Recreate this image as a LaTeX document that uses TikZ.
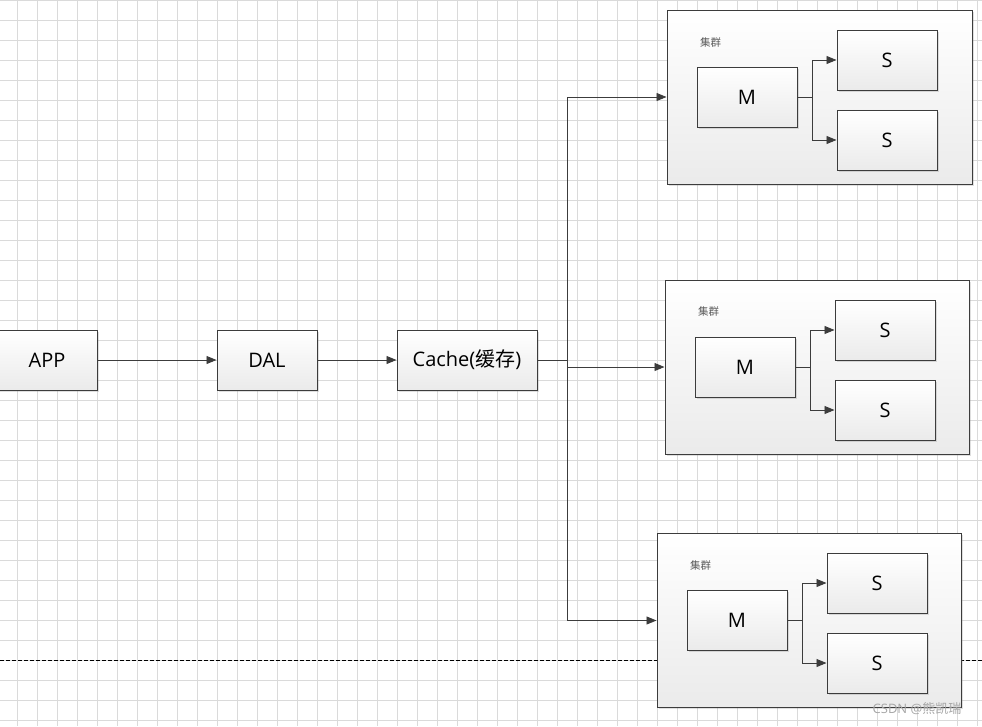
\documentclass[tikz,border=0pt]{standalone}
\usepackage{fontspec}
\setmainfont{Open Sans}
\newfontfamily\cjk{Noto Sans CJK SC}
\usetikzlibrary{arrows.meta,shadows,calc}
\definecolor{gridc}{HTML}{DADADA}
\definecolor{linec}{HTML}{3C3C3C}
\begin{document}
\begin{tikzpicture}[x=1pt,y=-1pt,
  boxbase/.style={draw=linec,line width=1pt,rectangle,top color=white,bottom color=black!8,
    drop shadow={shadow xshift=1.5pt,shadow yshift=-1.5pt,opacity=.25}},
  bigbox/.style={boxbase,minimum width=100pt,minimum height=60pt,inner sep=0pt,
    font=\fontsize{20}{24}\selectfont},
  clusterbox/.style={boxbase,minimum width=304pt,minimum height=174pt,inner sep=0pt},
  clabel/.style={anchor=west,text=black!65,font=\cjk\fontsize{10.5}{12}\selectfont,inner sep=0pt},
  conn/.style={draw=linec,line width=0.9pt},
  arr/.style={conn,-{Triangle[length=10pt,width=8pt]},arrows={[color=linec]}},
]
\useasboundingbox (0,0) rectangle (982,726);
% grid
\foreach \x in {17,37,...,977} \draw[gridc,line width=0.9pt] (\x,0) -- (\x,726);
\foreach \y in {0,20,...,720} \draw[gridc,line width=0.9pt] (0,\y) -- (982,\y);
% dashed line
\draw[black,line width=0.8pt,dash pattern=on 4pt off 2pt] (0,660) -- (982,660);

% main chain
\node[bigbox] (app) at (47,360) {APP};
\node[bigbox] (dal) at (267,360) {DAL};
\node[bigbox,minimum width=140pt] (cache) at (467,360) {Cache({\cjk 缓存})};
\draw[arr] (app) -- (dal);
\draw[arr] (dal) -- (cache);

% clusters
\node[clusterbox,minimum width=305pt] (c1) at (819.5,97) {};
\node[clusterbox] (c2) at (817,367) {};
\node[clusterbox] (c3) at (809,620.5) {};

\node[clabel] (l1) at (700,42) {集群};
\node[clabel] (l2) at (698,311) {集群};
\node[clabel] (l3) at (690,565) {集群};

\node[bigbox] (m1) at (747,97) {M};
\node[bigbox] (s1a) at (887,60) {S};
\node[bigbox] (s1b) at (887,140) {S};

\node[bigbox] (m2) at (745,367) {M};
\node[bigbox] (s2a) at (885,330) {S};
\node[bigbox] (s2b) at (885,410) {S};

\node[bigbox] (m3) at (737,620) {M};
\node[bigbox] (s3a) at (877,583) {S};
\node[bigbox] (s3b) at (877,663) {S};

\draw[arr] (m1.east) -- ++(15,0) |- (s1a.west);
\draw[arr] (m1.east) -- ++(15,0) |- (s1b.west);
\draw[arr] (m2.east) -- ++(15,0) |- (s2a.west);
\draw[arr] (m2.east) -- ++(15,0) |- (s2b.west);
\draw[arr] (m3.east) -- ++(15,0) |- (s3a.west);
\draw[arr] (m3.east) -- ++(15,0) |- (s3b.west);

% cache fan-out
\coordinate (j) at (567,360);
\draw[conn] (cache.east) -- (j);
\draw[arr] (j) |- (c1.west);
\draw[arr] (j) |- (c2.west);
\draw[arr] (j) |- (c3.west);

% watermark
\node[text=black!35,font=\fontsize{13}{15}\selectfont,inner sep=0pt] (wm) at (917,709) {CSDN @{\cjk 熊凯瑞}};
\end{tikzpicture}
\end{document}
